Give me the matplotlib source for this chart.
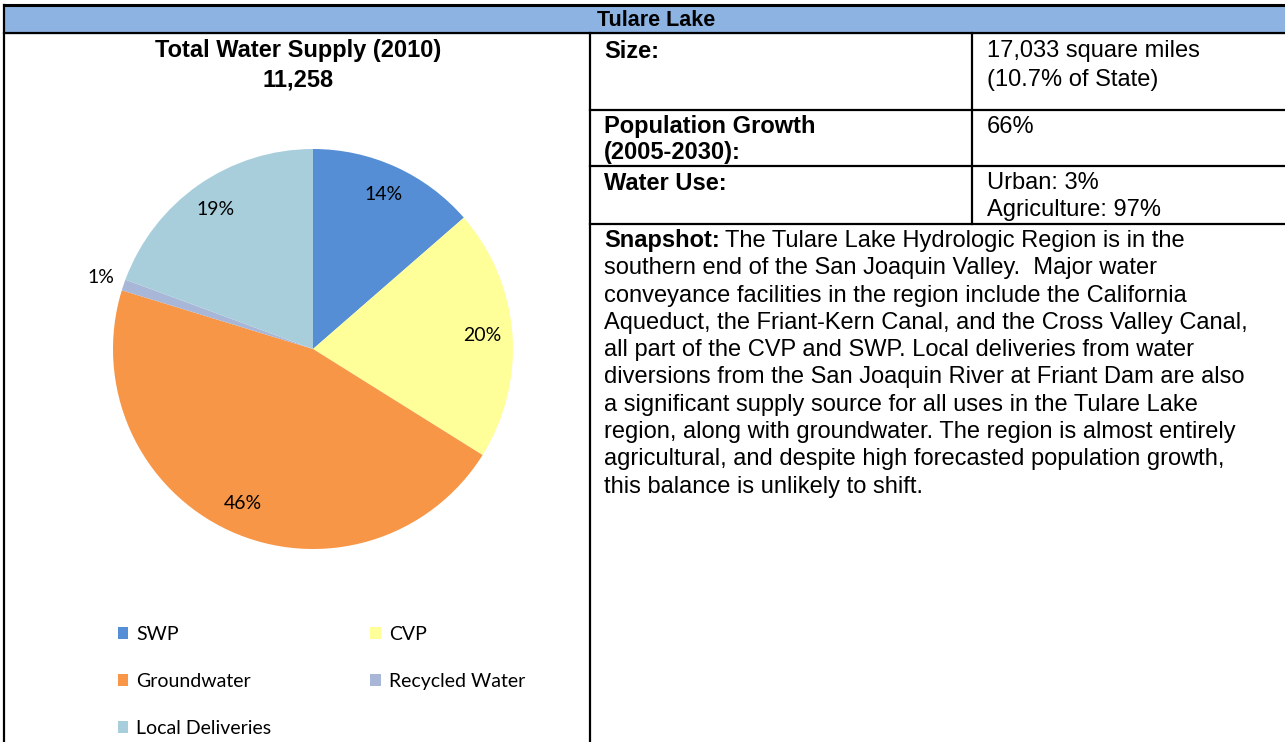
import matplotlib.pyplot as plt
import numpy as np

# water supply in TAF (2010)
categories = ["SWP", "CVP", "Groundwater", "Recycled Water", "Local Deliveries"]
supply = [1531, 2285, 5161, 101, 2180]
colors = ["#558ED5", "#FFFF99", "#F79646", "#A8B7D8", "#A9CEDB"]

region = "Tulare Lake"
total_label = "11,258"
size_text = ["17,033 square miles", "(10.7% of State)"]
pop_growth = "66%"
water_use = ["Urban: 3%", "Agriculture: 97%"]
snapshot_lines = [
    "The Tulare Lake Hydrologic Region is in the",
    "southern end of the San Joaquin Valley.  Major water",
    "conveyance facilities in the region include the California",
    "Aqueduct, the Friant-Kern Canal, and the Cross Valley Canal,",
    "all part of the CVP and SWP. Local deliveries from water",
    "diversions from the San Joaquin River at Friant Dam are also",
    "a significant supply source for all uses in the Tulare Lake",
    "region, along with groundwater. The region is almost entirely",
    "agricultural, and despite high forecasted population growth,",
    "this balance is unlikely to shift.",
]

W, H = 1285, 742
arial = ["Liberation Sans", "DejaVu Sans"]
calib = ["Lato", "DejaVu Sans"]
fs = 17

fig = plt.figure(figsize=(W / 100, H / 100), dpi=100)
bg = fig.add_axes([0, 0, 1, 1])
bg.set_xlim(0, W)
bg.set_ylim(H, 0)
bg.axis("off")

# header band and table grid
bg.fill_between([4, W], 5, 33, color="#8DB3E2", zorder=0)
lw = 1.6
bg.plot([4, W], [5, 5], color="k", lw=2.2)
bg.plot([4, W], [33, 33], color="k", lw=lw)
bg.plot([4, 4], [5, H], color="k", lw=lw)
bg.plot([590, 590], [33, H], color="k", lw=lw)
bg.plot([972, 972], [33, 224], color="k", lw=lw)
for yy in [110, 166, 224]:
    bg.plot([590, W], [yy, yy], color="k", lw=lw)

bg.text(656, 20, region, ha="center", va="center", fontsize=15.5, fontweight="bold", family=arial)

bg.text(298, 51, "Total Water Supply (2010)", ha="center", va="center", fontsize=fs,
        fontweight="bold", family=arial)
bg.text(298, 80, total_label, ha="center", va="center", fontsize=fs, fontweight="bold", family=arial)

bg.text(604, 51, "Size:", va="center", fontsize=fs, fontweight="bold", family=arial)
bg.text(987, 51, size_text[0], va="center", fontsize=fs, family=arial)
bg.text(987, 80, size_text[1], va="center", fontsize=fs, family=arial)
bg.text(604, 127, "Population Growth", va="center", fontsize=fs, fontweight="bold", family=arial)
bg.text(604, 153, "(2005-2030):", va="center", fontsize=fs, fontweight="bold", family=arial)
bg.text(987, 127, pop_growth, va="center", fontsize=fs, family=arial)
bg.text(604, 183, "Water Use:", va="center", fontsize=fs, fontweight="bold", family=arial)
bg.text(987, 183, water_use[0], va="center", fontsize=fs, family=arial)
bg.text(987, 210, water_use[1], va="center", fontsize=fs, family=arial)

# snapshot paragraph, bold lead-in then normal text
y0, dy = 241, 27.3
lab = bg.text(604, y0, "Snapshot:", va="center", fontsize=fs, fontweight="bold", family=arial)
fig.canvas.draw()
bb = lab.get_window_extent(fig.canvas.get_renderer())
x_after = bg.transData.inverted().transform((bb.x1, 0))[0] + 5
bg.text(x_after, y0, snapshot_lines[0], va="center", fontsize=fs, family=arial)
for i, line in enumerate(snapshot_lines[1:], start=1):
    bg.text(604, y0 + i * dy, line, va="center", fontsize=fs, family=arial)

# pie
cx, cy, R = 313, 349, 200
side = 2.4 * R
ax = fig.add_axes([(cx - side / 2) / W, (H - cy - side / 2) / H, side / W, side / H])
wedges, texts, autotexts = ax.pie(
    supply, colors=colors, startangle=90, counterclock=False,
    autopct=lambda p: f"{p:.0f}%", pctdistance=0.85,
    textprops=dict(fontsize=14, family=calib),
    wedgeprops=dict(linewidth=0),
)
ax.set_xlim(-1.2, 1.2)
ax.set_ylim(-1.2, 1.2)
ax.set_aspect("equal")
ax.axis("off")
# small slice label goes outside
for w, t, v in zip(wedges, autotexts, supply):
    if v / sum(supply) < 0.03:
        ang = np.deg2rad((w.theta1 + w.theta2) / 2)
        t.set_position((1.12 * np.cos(ang), 1.12 * np.sin(ang)))

# legend filled row by row like the original
order = [0, 2, 4, 1, 3]
fig.legend([wedges[i] for i in order], [categories[i] for i in order], loc="upper left",
           bbox_to_anchor=(108 / W, 1 - 616 / H),
           ncol=2, frameon=False, borderpad=0, handlelength=0.55, handleheight=0.55,
           handletextpad=0.4, labelspacing=1.55, columnspacing=5.1,
           prop=dict(family=calib, size=14))

fig.savefig("out.png", dpi=100)
